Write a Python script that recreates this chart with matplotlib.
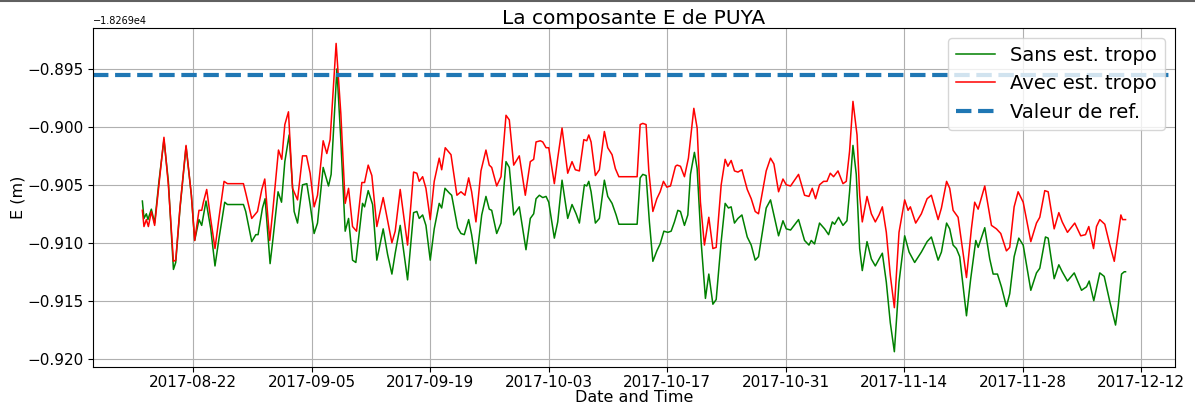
import matplotlib
matplotlib.use("Agg")
import matplotlib.pyplot as plt
import matplotlib.dates as mdates
import pandas as pd

# E component, offsets in metres added to E_BASE
E_BASE = -18269.0
START = pd.Timestamp("2017-08-16")
REF_VALUE = -0.8955

# days since START and values (m) for the run without tropo estimation
sans_days = [0.0, 0.19, 0.47, 0.66, 1.06, 1.45, 1.96, 2.55, 3.07, 3.67, 3.94, 4.45, 5.16, 5.79, 6.18,
             6.69, 7.01, 7.52, 8.08, 8.58, 9.06, 9.73, 10.05, 11.94, 12.21, 12.92, 13.40, 13.67, 14.19,
             14.50, 15.09, 15.44, 16.03, 16.44, 16.83, 17.34, 17.93, 18.33, 18.92, 19.43, 19.82, 20.29,
             20.69, 21.36, 21.99, 22.30, 22.98, 23.45, 23.96, 24.36, 24.83, 25.22, 26.01, 26.25, 26.68,
             27.20, 27.70, 28.45, 28.97, 29.48, 29.87, 30.46, 31.33, 32.04, 32.43, 32.71, 33.11, 33.50,
             34.01, 34.48, 35.07, 35.36, 35.75, 36.25, 36.54, 37.25, 37.64, 38.03, 38.55, 38.90, 39.41,
             40.09, 40.59, 40.98, 41.27, 41.86, 42.37, 42.96, 43.35, 43.87, 44.53, 45.32, 45.83, 46.23,
             46.51, 46.90, 47.30, 47.69, 48.01, 48.67, 49.07, 49.58, 50.25, 50.76, 51.24, 51.63, 52.22,
             52.50, 52.74, 53.01, 53.52, 53.99, 54.58, 54.98, 55.49, 55.97, 56.29, 58.45, 58.81, 59.12,
             59.51, 59.90, 60.31, 60.78, 61.17, 61.61, 62.08, 62.47, 62.86, 63.26, 63.57, 64.04, 64.44,
             64.75, 65.22, 65.54, 66.01, 66.52, 66.92, 67.40, 67.79, 68.38, 68.85, 69.24, 69.56, 69.95,
             70.36, 70.83, 71.46, 71.93, 72.40, 72.79, 73.70, 74.21, 74.61, 75.16, 75.68, 76.07, 76.58,
             77.52, 78.23, 78.75, 79.02, 79.41, 80.00, 80.60, 81.07, 81.51, 81.78, 82.25, 82.77, 83.24,
             83.55, 83.95, 84.34, 84.74, 85.05, 85.61, 86.12, 86.59, 87.03, 87.42, 87.89, 88.36, 88.84,
             89.39, 90.06, 90.58, 91.24, 92.03, 92.71, 93.21, 94.01, 94.40, 95.01, 95.38, 95.78, 96.17,
             96.56, 97.36, 97.86, 98.46, 98.74, 99.52, 100.11, 100.51, 101.02, 101.49, 102.08, 102.47,
             102.99, 103.54, 104.06, 104.96, 105.63, 106.02, 106.69, 107.01, 107.72, 108.27, 108.67,
             109.29, 110.09, 110.95, 111.54, 111.86, 112.40, 113.11, 113.63, 114.30, 114.97, 115.29,
             115.68, 116.00, 116.15]
sans_vals = [-0.9064, -0.9079, -0.9075, -0.9080, -0.9071, -0.9083, -0.9047, -0.9011, -0.9047, -0.9123,
             -0.9117, -0.9070, -0.9017, -0.9059, -0.9098, -0.9080, -0.9085, -0.9064, -0.9088, -0.9120,
             -0.9096, -0.9065, -0.9067, -0.9067, -0.9073, -0.9099, -0.9093, -0.9093, -0.9070, -0.9062,
             -0.9118, -0.9096, -0.9056, -0.9065, -0.9030, -0.9007, -0.9073, -0.9083, -0.9050, -0.9049,
             -0.9067, -0.9092, -0.9083, -0.9035, -0.9051, -0.9041, -0.8950, -0.9012, -0.9090, -0.9079,
             -0.9115, -0.9117, -0.9066, -0.9069, -0.9055, -0.9067, -0.9115, -0.9088, -0.9110, -0.9127,
             -0.9109, -0.9085, -0.9132, -0.9074, -0.9073, -0.9079, -0.9076, -0.9085, -0.9115, -0.9088,
             -0.9066, -0.9070, -0.9053, -0.9057, -0.9059, -0.9087, -0.9092, -0.9093, -0.9080, -0.9093,
             -0.9118, -0.9076, -0.9060, -0.9071, -0.9072, -0.9092, -0.9083, -0.9030, -0.9035, -0.9076,
             -0.9069, -0.9106, -0.9079, -0.9075, -0.9062, -0.9059, -0.9061, -0.9060, -0.9065, -0.9096,
             -0.9082, -0.9046, -0.9079, -0.9067, -0.9075, -0.9083, -0.9050, -0.9051, -0.9047, -0.9056,
             -0.9083, -0.9079, -0.9046, -0.9060, -0.9066, -0.9076, -0.9084, -0.9084, -0.9044, -0.9041,
             -0.9042, -0.9082, -0.9116, -0.9107, -0.9101, -0.9090, -0.9091, -0.9090, -0.9082, -0.9072,
             -0.9073, -0.9085, -0.9076, -0.9041, -0.9022, -0.9036, -0.9099, -0.9148, -0.9127, -0.9153,
             -0.9149, -0.9099, -0.9066, -0.9070, -0.9069, -0.9083, -0.9079, -0.9076, -0.9095, -0.9102,
             -0.9115, -0.9112, -0.9070, -0.9063, -0.9076, -0.9094, -0.9081, -0.9088, -0.9089, -0.9080,
             -0.9098, -0.9102, -0.9098, -0.9101, -0.9083, -0.9088, -0.9093, -0.9082, -0.9084, -0.9078,
             -0.9085, -0.9081, -0.9056, -0.9016, -0.9041, -0.9105, -0.9124, -0.9099, -0.9114, -0.9120,
             -0.9114, -0.9109, -0.9134, -0.9169, -0.9194, -0.9134, -0.9094, -0.9108, -0.9117, -0.9108,
             -0.9099, -0.9095, -0.9115, -0.9108, -0.9083, -0.9088, -0.9102, -0.9105, -0.9112, -0.9163,
             -0.9131, -0.9098, -0.9104, -0.9087, -0.9114, -0.9127, -0.9127, -0.9138, -0.9155, -0.9144,
             -0.9112, -0.9096, -0.9102, -0.9141, -0.9126, -0.9122, -0.9095, -0.9096, -0.9131, -0.9119,
             -0.9125, -0.9133, -0.9126, -0.9141, -0.9138, -0.9133, -0.9150, -0.9126, -0.9129, -0.9151,
             -0.9171, -0.9154, -0.9127, -0.9125, -0.9125]

# days since START and values (m) for the run with tropo estimation
avec_days = [0.0, 0.19, 0.47, 0.71, 1.06, 1.45, 1.96, 2.55, 3.07, 3.67, 3.94, 4.45, 5.16, 5.79, 6.18,
             6.69, 7.01, 7.21, 7.60, 8.08, 8.58, 9.06, 9.65, 10.05, 11.94, 12.21, 12.92, 13.60, 14.11,
             14.46, 15.05, 15.44, 16.08, 16.47, 16.83, 17.26, 17.74, 18.33, 18.92, 19.39, 19.82, 20.29,
             20.69, 21.36, 21.79, 22.18, 22.89, 23.45, 23.96, 24.36, 24.83, 25.30, 25.93, 26.25, 26.68,
             27.11, 27.70, 28.45, 28.85, 29.48, 29.87, 30.46, 31.33, 32.04, 32.43, 32.71, 33.11, 33.50,
             34.01, 34.48, 35.07, 35.36, 35.78, 36.46, 37.16, 37.64, 38.11, 38.55, 38.90, 39.41, 40.00,
             40.59, 40.98, 41.27, 41.86, 42.37, 42.96, 43.35, 43.87, 44.53, 45.24, 45.83, 46.23, 46.51,
             47.01, 47.30, 47.69, 48.01, 48.67, 49.07, 49.58, 50.25, 50.76, 51.15, 51.63, 52.15, 52.50,
             52.74, 53.01, 53.52, 53.99, 54.58, 54.98, 55.49, 55.88, 56.29, 58.45, 58.81, 59.12, 59.51,
             59.83, 60.31, 60.78, 61.17, 61.56, 61.96, 62.39, 62.98, 63.18, 63.57, 64.04, 64.51, 65.15,
             65.54, 65.93, 66.40, 66.92, 67.40, 67.79, 68.38, 68.85, 69.17, 69.56, 69.95, 70.36, 70.83,
             71.46, 71.93, 72.40, 72.79, 73.70, 74.21, 74.61, 75.16, 75.68, 76.07, 76.58, 77.52, 78.23,
             78.75, 79.14, 79.53, 80.00, 80.48, 80.88, 81.27, 81.66, 82.18, 82.77, 83.16, 83.55, 83.95,
             84.43, 84.74, 85.05, 85.61, 86.12, 86.59, 87.03, 87.42, 87.89, 88.36, 88.84, 89.39, 90.06,
             90.46, 90.73, 91.36, 92.03, 92.71, 93.21, 94.01, 94.40, 95.01, 95.38, 95.78, 96.37, 97.36,
             97.94, 98.33, 98.74, 99.52, 100.31, 100.90, 101.41, 102.08, 102.47, 102.99, 103.46, 104.06,
             104.96, 105.63, 106.02, 106.61, 107.01, 107.72, 108.27, 108.67, 109.29, 110.15, 110.86,
             111.42, 111.81, 112.37, 112.72, 113.11, 113.70, 114.30, 114.82, 115.21, 115.60, 115.80,
             116.15]
avec_vals = [-0.9072, -0.9086, -0.9080, -0.9086, -0.9073, -0.9085, -0.9050, -0.9009, -0.9050, -0.9116,
             -0.9115, -0.9069, -0.9016, -0.9059, -0.9098, -0.9072, -0.9072, -0.9065, -0.9054, -0.9080,
             -0.9105, -0.9078, -0.9047, -0.9049, -0.9049, -0.9057, -0.9079, -0.9073, -0.9054, -0.9045,
             -0.9098, -0.9070, -0.9020, -0.9028, -0.8998, -0.8987, -0.9053, -0.9063, -0.9025, -0.9025,
             -0.9040, -0.9069, -0.9059, -0.9012, -0.9023, -0.9011, -0.8928, -0.8989, -0.9066, -0.9053,
             -0.9086, -0.9090, -0.9048, -0.9048, -0.9033, -0.9042, -0.9086, -0.9061, -0.9076, -0.9100,
             -0.9090, -0.9054, -0.9102, -0.9039, -0.9040, -0.9047, -0.9043, -0.9053, -0.9080, -0.9047,
             -0.9027, -0.9037, -0.9018, -0.9024, -0.9059, -0.9056, -0.9059, -0.9044, -0.9056, -0.9082,
             -0.9038, -0.9020, -0.9033, -0.9035, -0.9051, -0.9043, -0.8990, -0.8994, -0.9033, -0.9025,
             -0.9059, -0.9030, -0.9028, -0.9013, -0.9012, -0.9013, -0.9018, -0.9018, -0.9049, -0.9027,
             -0.9001, -0.9040, -0.9030, -0.9037, -0.9038, -0.9011, -0.9012, -0.9007, -0.9013, -0.9042,
             -0.9037, -0.9004, -0.9018, -0.9024, -0.9036, -0.9043, -0.9043, -0.8998, -0.8997, -0.8998,
             -0.9038, -0.9073, -0.9062, -0.9056, -0.9047, -0.9052, -0.9051, -0.9034, -0.9033, -0.9034,
             -0.9043, -0.9027, -0.8984, -0.9001, -0.9065, -0.9102, -0.9078, -0.9105, -0.9104, -0.9050,
             -0.9028, -0.9034, -0.9029, -0.9038, -0.9039, -0.9037, -0.9054, -0.9062, -0.9073, -0.9075,
             -0.9038, -0.9027, -0.9032, -0.9056, -0.9045, -0.9050, -0.9051, -0.9041, -0.9059, -0.9060,
             -0.9053, -0.9062, -0.9050, -0.9047, -0.9047, -0.9040, -0.9043, -0.9038, -0.9049, -0.9047,
             -0.9021, -0.8978, -0.9007, -0.9059, -0.9082, -0.9060, -0.9075, -0.9082, -0.9076, -0.9069,
             -0.9091, -0.9128, -0.9156, -0.9091, -0.9063, -0.9072, -0.9069, -0.9083, -0.9075, -0.9062,
             -0.9059, -0.9080, -0.9070, -0.9047, -0.9053, -0.9072, -0.9078, -0.9130, -0.9088, -0.9065,
             -0.9071, -0.9051, -0.9085, -0.9088, -0.9092, -0.9107, -0.9104, -0.9069, -0.9056, -0.9065,
             -0.9099, -0.9083, -0.9078, -0.9055, -0.9056, -0.9088, -0.9074, -0.9082, -0.9091, -0.9083,
             -0.9094, -0.9093, -0.9086, -0.9105, -0.9086, -0.9080, -0.9084, -0.9102, -0.9116, -0.9096,
             -0.9076, -0.9080, -0.9080]

tick_dates = ["2017-08-22", "2017-09-05", "2017-09-19", "2017-10-03", "2017-10-17",
              "2017-10-31", "2017-11-14", "2017-11-28", "2017-12-12"]

sans_t = START + pd.to_timedelta(sans_days, unit="D")
avec_t = START + pd.to_timedelta(avec_days, unit="D")
sans_e = [E_BASE + v for v in sans_vals]
avec_e = [E_BASE + v for v in avec_vals]

fig = plt.figure(figsize=(11.95, 4.03), dpi=100)
ax = fig.add_axes([0.078, 0.089, 0.905, 0.8415])

ax.plot(sans_t, sans_e, color="green", lw=1.1, label="Sans est. tropo")
ax.plot(avec_t, avec_e, color="red", lw=1.1, label="Avec est. tropo")
ax.axhline(E_BASE + REF_VALUE, color="#1f77b4", lw=3, ls="--", label="Valeur de ref.")

ax.set_xticks(pd.to_datetime(tick_dates))
ax.xaxis.set_major_formatter(mdates.DateFormatter("%Y-%m-%d"))
ax.tick_params(labelsize=11)
ax.tick_params(axis="x", pad=2)
ax.yaxis.get_offset_text().set_fontsize(7)
ax.grid(True)

ax.set_title("La composante E de PUYA", fontsize=14.5, pad=3)
ax.set_xlabel("Date and Time", fontsize=11.5, labelpad=0)
ax.set_ylabel("E (m)", fontsize=11.5, labelpad=1)
ax.legend(loc="upper right", fontsize=14)

# grey bar along the top edge of the image
fig.add_artist(plt.Line2D([0, 1], [0.997, 0.997], transform=fig.transFigure, color="#606060", lw=1.5))

fig.savefig("out.png", dpi=100)
